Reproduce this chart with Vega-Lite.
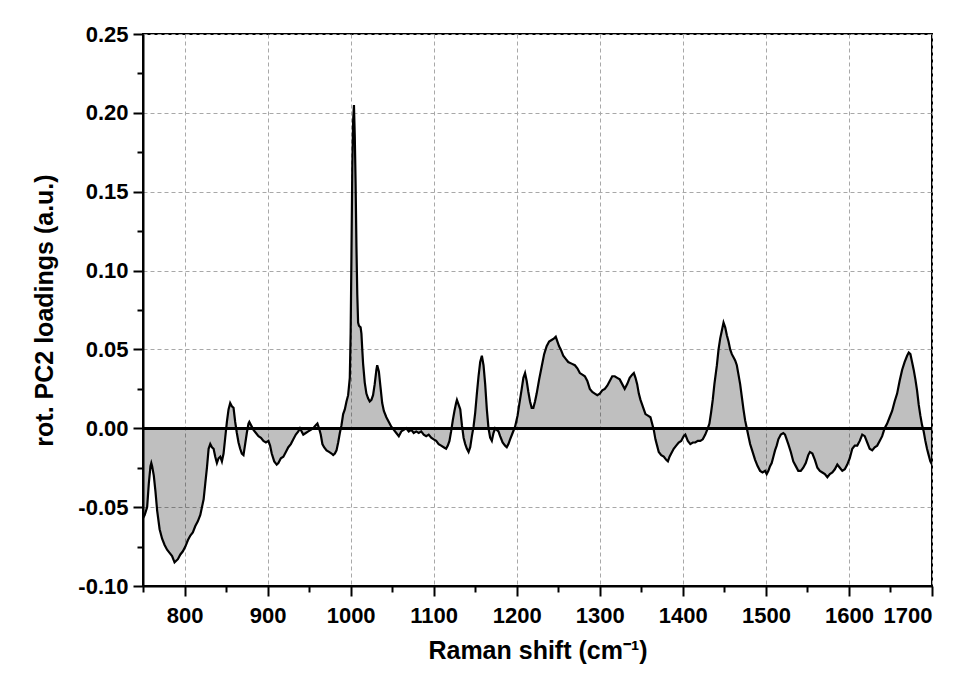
{
  "$schema": "https://vega.github.io/schema/vega-lite/v6.json",
  "autosize": {"type": "none"},
  "padding": {"left": 143, "top": 34, "right": 29, "bottom": 88},
  "width": 789,
  "height": 552,
  "background": "white",
  "config": {
    "view": {"stroke": "black", "strokeWidth": 2},
    "axis": {
      "domainColor": "black", "domainWidth": 2,
      "tickColor": "black", "tickWidth": 2,
      "gridColor": "#a8a8a8", "gridDash": [4, 3], "gridWidth": 1,
      "labelFont": "Liberation Sans", "labelFontWeight": "bold", "labelFontSize": 22, "labelColor": "black",
      "titleFont": "Liberation Sans", "titleFontWeight": "bold", "titleFontSize": 25, "titleColor": "black"
    }
  },
  "data": {"values": [
    {"x":750,"y":-0.057},{"x":752,"y":-0.055},{"x":755,"y":-0.050},{"x":757,"y":-0.035},{"x":759,"y":-0.024},{"x":760,"y":-0.022},{"x":761,"y":-0.024},{"x":763,"y":-0.030},{"x":765,"y":-0.040},{"x":767,"y":-0.052},{"x":770,"y":-0.064},{"x":773,"y":-0.070},{"x":776,"y":-0.074},{"x":779,"y":-0.077},{"x":782,"y":-0.079},{"x":785,"y":-0.081},{"x":788,"y":-0.085},{"x":790,"y":-0.084},{"x":792,"y":-0.083},{"x":795,"y":-0.080},{"x":798,"y":-0.078},{"x":801,"y":-0.075},{"x":804,"y":-0.071},{"x":807,"y":-0.068},{"x":810,"y":-0.066},{"x":813,"y":-0.062},{"x":816,"y":-0.059},{"x":819,"y":-0.055},{"x":821,"y":-0.050},{"x":823,"y":-0.045},{"x":825,"y":-0.035},{"x":827,"y":-0.025},{"x":829,"y":-0.013},{"x":831,"y":-0.010},{"x":833,"y":-0.012},{"x":835,"y":-0.013},{"x":837,"y":-0.018},{"x":839,"y":-0.022},{"x":841,"y":-0.019},{"x":843,"y":-0.018},{"x":845,"y":-0.021},{"x":847,"y":-0.016},{"x":849,"y":-0.006},{"x":851,"y":0.004},{"x":853,"y":0.012},{"x":855,"y":0.016},{"x":857,"y":0.014},{"x":859,"y":0.013},{"x":861,"y":0.004},{"x":863,"y":-0.003},{"x":865,"y":-0.009},{"x":867,"y":-0.013},{"x":869,"y":-0.016},{"x":871,"y":-0.017},{"x":873,"y":-0.010},{"x":875,"y":-0.003},{"x":877,"y":0.003},{"x":878,"y":0.004},{"x":880,"y":0.002},{"x":883,"y":-0.001},{"x":886,"y":-0.003},{"x":889,"y":-0.005},{"x":892,"y":-0.006},{"x":895,"y":-0.008},{"x":898,"y":-0.009},{"x":901,"y":-0.008},{"x":903,"y":-0.011},{"x":905,"y":-0.016},{"x":908,"y":-0.021},{"x":911,"y":-0.023},{"x":913,"y":-0.022},{"x":916,"y":-0.019},{"x":919,"y":-0.018},{"x":922,"y":-0.015},{"x":925,"y":-0.012},{"x":928,"y":-0.010},{"x":931,"y":-0.007},{"x":934,"y":-0.004},{"x":937,"y":-0.002},{"x":939,"y":0.000},{"x":941,"y":-0.002},{"x":943,"y":-0.004},{"x":946,"y":-0.003},{"x":949,"y":-0.002},{"x":952,"y":-0.001},{"x":955,"y":0.000},{"x":958,"y":0.002},{"x":960,"y":0.003},{"x":962,"y":0.000},{"x":964,"y":-0.004},{"x":966,"y":-0.010},{"x":968,"y":-0.012},{"x":971,"y":-0.014},{"x":974,"y":-0.015},{"x":977,"y":-0.016},{"x":979,"y":-0.017},{"x":981,"y":-0.016},{"x":983,"y":-0.014},{"x":985,"y":-0.009},{"x":987,"y":-0.003},{"x":989,"y":0.002},{"x":991,"y":0.009},{"x":993,"y":0.012},{"x":995,"y":0.017},{"x":997,"y":0.021},{"x":999,"y":0.032},{"x":1000,"y":0.06},{"x":1001,"y":0.11},{"x":1002,"y":0.165},{"x":1003,"y":0.195},{"x":1004,"y":0.205},{"x":1005,"y":0.185},{"x":1006,"y":0.155},{"x":1007,"y":0.115},{"x":1008,"y":0.085},{"x":1009,"y":0.067},{"x":1010,"y":0.065},{"x":1012,"y":0.064},{"x":1013,"y":0.060},{"x":1014,"y":0.050},{"x":1015,"y":0.041},{"x":1017,"y":0.029},{"x":1019,"y":0.022},{"x":1021,"y":0.019},{"x":1023,"y":0.017},{"x":1025,"y":0.018},{"x":1027,"y":0.021},{"x":1029,"y":0.028},{"x":1031,"y":0.037},{"x":1032,"y":0.040},{"x":1034,"y":0.036},{"x":1036,"y":0.026},{"x":1038,"y":0.016},{"x":1040,"y":0.011},{"x":1043,"y":0.007},{"x":1046,"y":0.004},{"x":1049,"y":0.001},{"x":1052,"y":-0.001},{"x":1055,"y":-0.003},{"x":1058,"y":-0.005},{"x":1061,"y":-0.002},{"x":1064,"y":-0.001},{"x":1067,"y":0.000},{"x":1070,"y":-0.002},{"x":1073,"y":-0.001},{"x":1076,"y":-0.003},{"x":1079,"y":-0.002},{"x":1082,"y":-0.003},{"x":1085,"y":-0.002},{"x":1088,"y":-0.004},{"x":1091,"y":-0.005},{"x":1094,"y":-0.004},{"x":1097,"y":-0.006},{"x":1100,"y":-0.007},{"x":1103,"y":-0.008},{"x":1106,"y":-0.010},{"x":1109,"y":-0.011},{"x":1112,"y":-0.012},{"x":1115,"y":-0.013},{"x":1117,"y":-0.011},{"x":1119,"y":-0.008},{"x":1121,"y":-0.002},{"x":1123,"y":0.005},{"x":1125,"y":0.011},{"x":1127,"y":0.016},{"x":1128,"y":0.018},{"x":1130,"y":0.015},{"x":1132,"y":0.012},{"x":1134,"y":0.002},{"x":1136,"y":-0.006},{"x":1138,"y":-0.010},{"x":1140,"y":-0.013},{"x":1142,"y":-0.015},{"x":1144,"y":-0.012},{"x":1146,"y":-0.005},{"x":1148,"y":0.001},{"x":1150,"y":0.010},{"x":1152,"y":0.022},{"x":1154,"y":0.033},{"x":1156,"y":0.042},{"x":1158,"y":0.046},{"x":1160,"y":0.040},{"x":1162,"y":0.028},{"x":1164,"y":0.012},{"x":1166,"y":0.000},{"x":1168,"y":-0.006},{"x":1170,"y":-0.008},{"x":1172,"y":-0.003},{"x":1174,"y":0.000},{"x":1176,"y":-0.001},{"x":1178,"y":-0.002},{"x":1180,"y":-0.005},{"x":1183,"y":-0.009},{"x":1186,"y":-0.011},{"x":1188,"y":-0.012},{"x":1190,"y":-0.010},{"x":1192,"y":-0.007},{"x":1195,"y":-0.003},{"x":1198,"y":0.001},{"x":1201,"y":0.008},{"x":1203,"y":0.015},{"x":1206,"y":0.025},{"x":1208,"y":0.032},{"x":1210,"y":0.035},{"x":1212,"y":0.030},{"x":1214,"y":0.023},{"x":1216,"y":0.017},{"x":1218,"y":0.013},{"x":1220,"y":0.013},{"x":1222,"y":0.017},{"x":1224,"y":0.022},{"x":1227,"y":0.031},{"x":1230,"y":0.039},{"x":1233,"y":0.047},{"x":1236,"y":0.052},{"x":1239,"y":0.055},{"x":1242,"y":0.056},{"x":1245,"y":0.057},{"x":1247,"y":0.058},{"x":1249,"y":0.055},{"x":1251,"y":0.052},{"x":1253,"y":0.050},{"x":1256,"y":0.046},{"x":1259,"y":0.044},{"x":1262,"y":0.042},{"x":1266,"y":0.041},{"x":1270,"y":0.040},{"x":1273,"y":0.038},{"x":1276,"y":0.035},{"x":1279,"y":0.034},{"x":1282,"y":0.033},{"x":1285,"y":0.030},{"x":1288,"y":0.025},{"x":1291,"y":0.023},{"x":1294,"y":0.022},{"x":1297,"y":0.021},{"x":1300,"y":0.022},{"x":1303,"y":0.024},{"x":1306,"y":0.025},{"x":1309,"y":0.027},{"x":1312,"y":0.030},{"x":1315,"y":0.033},{"x":1318,"y":0.033},{"x":1321,"y":0.032},{"x":1324,"y":0.031},{"x":1327,"y":0.028},{"x":1330,"y":0.025},{"x":1333,"y":0.028},{"x":1336,"y":0.032},{"x":1339,"y":0.034},{"x":1341,"y":0.035},{"x":1343,"y":0.032},{"x":1345,"y":0.028},{"x":1347,"y":0.022},{"x":1349,"y":0.018},{"x":1351,"y":0.015},{"x":1353,"y":0.012},{"x":1355,"y":0.009},{"x":1358,"y":0.008},{"x":1361,"y":0.007},{"x":1363,"y":0.003},{"x":1365,"y":-0.001},{"x":1367,"y":-0.007},{"x":1369,"y":-0.011},{"x":1371,"y":-0.015},{"x":1374,"y":-0.017},{"x":1377,"y":-0.018},{"x":1380,"y":-0.020},{"x":1382,"y":-0.021},{"x":1384,"y":-0.018},{"x":1386,"y":-0.016},{"x":1389,"y":-0.013},{"x":1392,"y":-0.011},{"x":1395,"y":-0.009},{"x":1398,"y":-0.008},{"x":1401,"y":-0.005},{"x":1403,"y":-0.004},{"x":1406,"y":-0.008},{"x":1409,"y":-0.010},{"x":1412,"y":-0.009},{"x":1415,"y":-0.009},{"x":1418,"y":-0.008},{"x":1421,"y":-0.008},{"x":1424,"y":-0.007},{"x":1427,"y":-0.004},{"x":1430,"y":0.000},{"x":1432,"y":0.003},{"x":1434,"y":0.010},{"x":1436,"y":0.018},{"x":1438,"y":0.028},{"x":1441,"y":0.040},{"x":1443,"y":0.050},{"x":1445,"y":0.057},{"x":1447,"y":0.062},{"x":1449,"y":0.067},{"x":1451,"y":0.064},{"x":1453,"y":0.059},{"x":1455,"y":0.055},{"x":1457,"y":0.050},{"x":1459,"y":0.047},{"x":1461,"y":0.045},{"x":1463,"y":0.043},{"x":1465,"y":0.040},{"x":1467,"y":0.034},{"x":1469,"y":0.028},{"x":1471,"y":0.020},{"x":1473,"y":0.012},{"x":1475,"y":0.005},{"x":1477,"y":0.000},{"x":1479,"y":-0.005},{"x":1481,"y":-0.010},{"x":1484,"y":-0.015},{"x":1487,"y":-0.020},{"x":1490,"y":-0.024},{"x":1493,"y":-0.027},{"x":1496,"y":-0.028},{"x":1499,"y":-0.027},{"x":1501,"y":-0.029},{"x":1503,"y":-0.027},{"x":1505,"y":-0.024},{"x":1507,"y":-0.022},{"x":1509,"y":-0.018},{"x":1511,"y":-0.014},{"x":1513,"y":-0.011},{"x":1515,"y":-0.007},{"x":1518,"y":-0.004},{"x":1521,"y":-0.003},{"x":1523,"y":-0.004},{"x":1525,"y":-0.007},{"x":1527,"y":-0.010},{"x":1530,"y":-0.015},{"x":1533,"y":-0.021},{"x":1536,"y":-0.024},{"x":1539,"y":-0.027},{"x":1542,"y":-0.027},{"x":1545,"y":-0.025},{"x":1548,"y":-0.022},{"x":1551,"y":-0.017},{"x":1553,"y":-0.015},{"x":1556,"y":-0.016},{"x":1559,"y":-0.020},{"x":1562,"y":-0.025},{"x":1565,"y":-0.027},{"x":1568,"y":-0.028},{"x":1571,"y":-0.029},{"x":1574,"y":-0.031},{"x":1577,"y":-0.029},{"x":1580,"y":-0.028},{"x":1583,"y":-0.026},{"x":1586,"y":-0.023},{"x":1589,"y":-0.025},{"x":1592,"y":-0.027},{"x":1595,"y":-0.026},{"x":1598,"y":-0.023},{"x":1601,"y":-0.019},{"x":1604,"y":-0.013},{"x":1607,"y":-0.011},{"x":1610,"y":-0.011},{"x":1613,"y":-0.008},{"x":1616,"y":-0.004},{"x":1619,"y":-0.005},{"x":1622,"y":-0.009},{"x":1625,"y":-0.013},{"x":1628,"y":-0.014},{"x":1631,"y":-0.012},{"x":1634,"y":-0.011},{"x":1637,"y":-0.008},{"x":1640,"y":-0.005},{"x":1643,"y":0.000},{"x":1646,"y":0.003},{"x":1649,"y":0.007},{"x":1652,"y":0.011},{"x":1655,"y":0.017},{"x":1658,"y":0.022},{"x":1661,"y":0.030},{"x":1664,"y":0.037},{"x":1667,"y":0.042},{"x":1670,"y":0.046},{"x":1672,"y":0.048},{"x":1674,"y":0.047},{"x":1676,"y":0.042},{"x":1678,"y":0.037},{"x":1680,"y":0.031},{"x":1682,"y":0.024},{"x":1684,"y":0.015},{"x":1686,"y":0.008},{"x":1688,"y":0.002},{"x":1690,"y":-0.002},{"x":1692,"y":-0.008},{"x":1694,"y":-0.013},{"x":1696,"y":-0.017},{"x":1698,"y":-0.021},{"x":1700,"y":-0.023}
  ]},
  "layer": [
    {
      "mark": {"type": "area", "color": "black", "fillOpacity": 0.25, "clip": true},
      "encoding": {
        "x": {"field": "x", "type": "quantitative", "scale": {"domain": [750, 1700], "nice": false, "zero": false},
          "axis": {"values": [800,900,1000,1100,1200,1300,1400,1500,1600,1700], "format": "d", "tickSize": 10, "labelPadding": 9,
                   "title": "Raman shift (cm\u207B\u00B9)", "titlePadding": 12, "orient": "bottom"}},
        "y": {"field": "y", "type": "quantitative", "scale": {"domain": [-0.1, 0.25], "nice": false, "zero": false},
          "axis": {"values": [-0.1,-0.05,0,0.05,0.1,0.15,0.2,0.25], "tickSize": 10, "labelPadding": 5,
                   "labelExpr": "replace(format(datum.value, '.2f'), '\u2212', '-')",
                   "title": "rot. PC2 loadings (a.u.)", "titlePadding": 20, "orient": "left"}},
        "y2": {"datum": 0}
      }
    },
    {
      "mark": {"type": "line", "color": "black", "strokeWidth": 2.2, "clip": true},
      "encoding": {
        "x": {"field": "x", "type": "quantitative",
          "axis": {"values": [750,850,950,1050,1150,1250,1350,1450,1550,1650], "labels": false, "grid": false, "domain": false, "tickSize": 6, "title": null, "orient": "bottom"}},
        "y": {"field": "y", "type": "quantitative",
          "axis": {"values": [-0.075,-0.025,0.025,0.075,0.125,0.175,0.225], "labels": false, "grid": false, "domain": false, "tickSize": 6, "title": null, "orient": "left"}}
      }
    },
    {
      "mark": {"type": "rule", "color": "black", "strokeWidth": 2},
      "encoding": {"y": {"datum": 0, "axis": null}}
    }
  ],
  "resolve": {"axis": {"x": "independent", "y": "independent"}}
}
